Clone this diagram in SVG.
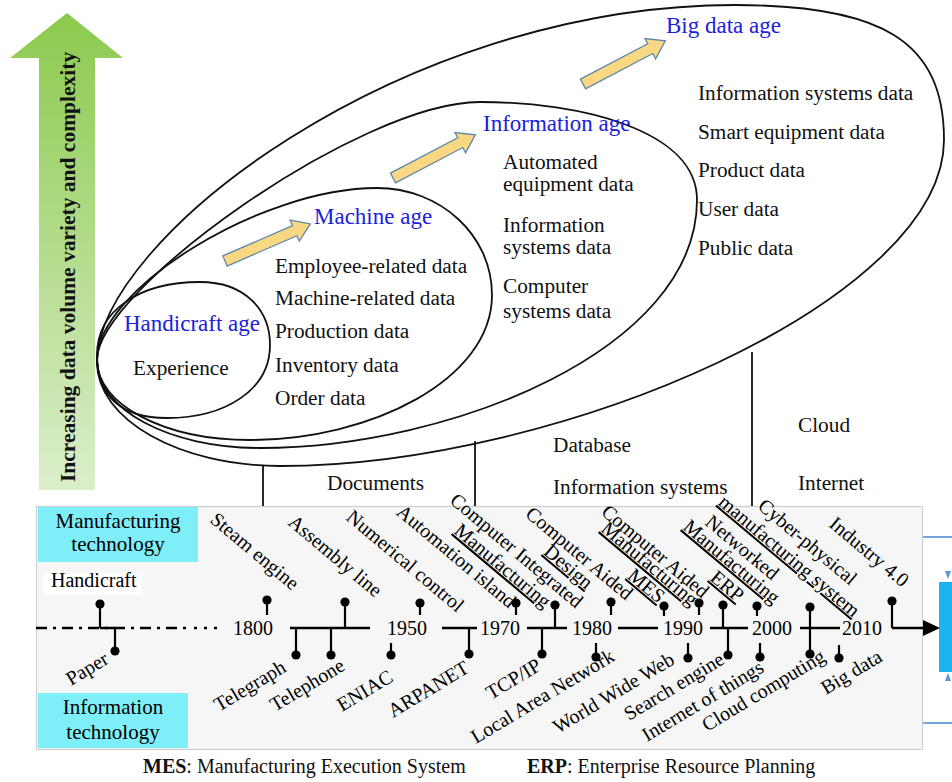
<svg xmlns="http://www.w3.org/2000/svg" width="952" height="782" viewBox="0 0 952 782">
  <defs>
    <linearGradient id="greenUp" x1="0" y1="1" x2="0" y2="0">
      <stop offset="0" stop-color="#dbeecb"/>
      <stop offset="1" stop-color="#8cca4e"/>
    </linearGradient>
    <!-- block arrow pointing along +x, tail at origin -->
    <path id="yArrow" d="M0,-5.5 H76 V-11.5 L93,0 L76,11.5 V5.5 H0 Z"/>
  </defs>
  <style>
    text { font-family: "Liberation Serif", "Times New Roman", serif; fill: #111; }
    .ring { fill: none; stroke: #111; stroke-width: 1.8; }
    .age { fill: #2020dc; font-size: 23px; }
    .item { font-size: 21.3px; }
    .tl { font-size: 20px; fill: #000; }
    .u { text-decoration: underline; }
    .yr { font-size: 20px; fill: #000; text-anchor: middle; }
    .pin { stroke: #000; stroke-width: 2.2; }
    .dot { fill: #000; }
    .axis { stroke: #000; stroke-width: 2.6; fill: none; }
    .tag { fill: #7eeef8; }
    .box { font-size: 21px; fill: #000; text-anchor: middle; }
    .yarrow { fill: #f9d883; stroke: #5d86aa; stroke-width: 1.3; }
    .drop { stroke: #111; stroke-width: 1.8; }
  </style>

  <rect width="952" height="782" fill="#ffffff"/>

  <!-- growth arrow on the left -->
  <g id="growth-arrow">
    <path d="M39,490 V58 H10 L67,13 L123,58 H95 V490 Z" fill="url(#greenUp)"/>
    <text transform="translate(75,482) rotate(-90)" font-size="21.5" font-weight="bold" fill="#111">Increasing data volume variety and complexity</text>
  </g>

  <!-- nested ages -->
  <g id="big-data-age">
    <path class="ring" d="M97,362 C97,240 400,5 735,5 C880,5 944,40 944,140 C944,300 560,466 280,466 C180,466 97,420 97,362 Z"/>
    <text class="age" x="666" y="33">Big data age</text>
    <text class="item" x="698" y="100">Information systems data</text>
    <text class="item" x="698" y="139">Smart equipment data</text>
    <text class="item" x="698" y="177">Product data</text>
    <text class="item" x="698" y="216">User data</text>
    <text class="item" x="698" y="255">Public data</text>
  </g>
  <g id="information-age">
    <path class="ring" d="M97,360 C97,290 360,102 480,102 C580,102 697,130 697,200 C697,350 450,448 260,448 C170,448 97,410 97,360 Z"/>
    <text class="age" x="483" y="131">Information age</text>
    <text class="item" x="503" y="169">Automated</text>
    <text class="item" x="503" y="191">equipment data</text>
    <text class="item" x="503" y="232">Information</text>
    <text class="item" x="503" y="254">systems data</text>
    <text class="item" x="503" y="293">Computer</text>
    <text class="item" x="503" y="318">systems data</text>
  </g>
  <g id="machine-age">
    <path class="ring" d="M97,360 C97,290 260,188 377,188 C440,188 492,235 492,295 C492,380 370,440 250,440 C165,440 97,405 97,360 Z"/>
    <text class="age" x="314" y="224">Machine age</text>
    <text class="item" x="275" y="273">Employee-related data</text>
    <text class="item" x="275" y="305">Machine-related data</text>
    <text class="item" x="275" y="338">Production data</text>
    <text class="item" x="275" y="372">Inventory data</text>
    <text class="item" x="275" y="405">Order data</text>
  </g>
  <g id="handicraft-age">
    <path class="ring" d="M97,355 C97,310 140,282 200,282 C245,282 270,310 270,345 C270,390 225,418 167,418 C120,418 97,395 97,355 Z"/>
    <text class="age" x="124" y="331">Handicraft age</text>
    <text class="item" x="133" y="375">Experience</text>
  </g>

  <!-- transitions between ages -->
  <g id="age-transitions">
    <use href="#yArrow" class="yarrow" transform="translate(225,261) rotate(-23.5)"/>
    <use href="#yArrow" class="yarrow" transform="translate(393,178) rotate(-27.7)"/>
    <use href="#yArrow" class="yarrow" transform="translate(583,84) rotate(-27.7)"/>
  </g>

  <!-- carriers between the ages and the timeline -->
  <g id="carrier-labels">
    <text class="item" x="327" y="490">Documents</text>
    <text class="item" x="553" y="452">Database</text>
    <text class="item" x="553" y="494">Information systems</text>
    <text class="item" x="798" y="432">Cloud</text>
    <text class="item" x="798" y="490">Internet</text>
  </g>

  <!-- right-hand partial panel -->
  <g id="side-panel">
    <line x1="923" y1="537" x2="952" y2="537" stroke="#6fa6dc" stroke-width="2"/>
    <line x1="923" y1="723" x2="952" y2="723" stroke="#6fa6dc" stroke-width="2"/>
    <path d="M945,571 L951,571 L948,579 Z" fill="#5d96d6"/>
    <path d="M945,681 L951,681 L948,673 Z" fill="#5d96d6"/>
    <rect x="939" y="582" width="13" height="90" fill="#1cb3f0"/>
  </g>

  <!-- timeline panel -->
  <g id="timeline-panel">
    <rect x="36.5" y="506.5" width="886" height="243" fill="#f6f6f6" stroke="#cfcfcf" stroke-width="1.2"/>
    <rect class="tag" x="38" y="507" width="160" height="55"/>
    <text class="box" x="118" y="528">Manufacturing</text>
    <text class="box" x="118" y="551">technology</text>
    <rect class="tag" x="38" y="693" width="150" height="55"/>
    <text class="box" x="113" y="714">Information</text>
    <text class="box" x="113" y="739">technology</text>
    <rect x="43" y="573" width="99" height="22" fill="#ffffff"/>
  </g>

  <!-- connectors: drops from the ages and the time axis -->
  <g id="connectors">
    <line class="drop" x1="263" y1="465" x2="263" y2="506"/>
    <line class="drop" x1="475" y1="441" x2="475" y2="506"/>
    <line class="drop" x1="752" y1="352" x2="752" y2="506"/>
    <line x1="36" y1="628" x2="190" y2="628" stroke="#000" stroke-width="2.6" stroke-dasharray="11 6 3 6"/>
    <line x1="194" y1="628" x2="218" y2="628" stroke="#000" stroke-width="2.6" stroke-dasharray="3 7"/>
    <path class="axis" d="M100,628 H115 M290,628 H370 M442,628 H477 M527,628 H567 M618,628 H658 M710,628 H748 M800,628 H840 M892,628 H925"/>
    <path d="M923,620 L940,628 L923,636 Z" fill="#000"/>
  </g>

  <g id="years">
    <text class="yr" x="253" y="635">1800</text>
    <text class="yr" x="407" y="635">1950</text>
    <text class="yr" x="500" y="635">1970</text>
    <text class="yr" x="592" y="635">1980</text>
    <text class="yr" x="683" y="635">1990</text>
    <text class="yr" x="772" y="635">2000</text>
    <text class="yr" x="862" y="635">2010</text>
  </g>

  <!-- manufacturing technology events (above the axis) -->
  <g id="ev-handicraft">
    <line class="pin" x1="100" y1="604" x2="100" y2="628"/><circle class="dot" cx="100" cy="604" r="4.6"/>
    <text class="tl" x="51" y="587" font-size="19">Handicraft</text>
  </g>
  <g id="ev-steam-engine">
    <line class="pin" x1="267" y1="600" x2="267" y2="615"/><circle class="dot" cx="267" cy="600" r="4.6"/>
    <text class="tl" text-anchor="end" transform="translate(292,591) rotate(40)">Steam engine</text>
  </g>
  <g id="ev-assembly-line">
    <line class="pin" x1="345" y1="602" x2="345" y2="628"/><circle class="dot" cx="345" cy="602" r="4.6"/>
    <text class="tl" text-anchor="end" transform="translate(375,598) rotate(40)">Assembly line</text>
  </g>
  <g id="ev-numerical-control">
    <line class="pin" x1="420" y1="603" x2="420" y2="615"/><circle class="dot" cx="420" cy="603" r="4.6"/>
    <text class="tl" text-anchor="end" transform="translate(457,613) rotate(40)">Numerical control</text>
  </g>
  <g id="ev-automation-island">
    <line class="pin" x1="516" y1="603" x2="516" y2="615"/><circle class="dot" cx="516" cy="603" r="4.6"/>
    <text class="tl" text-anchor="end" transform="translate(509,609) rotate(40)">Automation island</text>
  </g>
  <g id="ev-cim">
    <line class="pin" x1="555" y1="605" x2="555" y2="628"/><circle class="dot" cx="555" cy="605" r="4.6"/>
    <text class="tl" text-anchor="end" transform="translate(576,609) rotate(40)">Computer Integrated</text>
    <text class="tl u" text-anchor="end" transform="translate(544,609) rotate(40)">Manufacturing</text>
  </g>
  <g id="ev-cad">
    <line class="pin" x1="611" y1="602" x2="611" y2="615"/><circle class="dot" cx="611" cy="602" r="4.6"/>
    <text class="tl" text-anchor="end" transform="translate(626,601) rotate(40)">Computer Aided</text>
    <text class="tl u" text-anchor="end" transform="translate(586,590) rotate(40)">Design</text>
  </g>
  <g id="ev-mes">
    <line class="pin" x1="664" y1="606" x2="664" y2="616"/><circle class="dot" cx="664" cy="606" r="4.6"/>
    <text class="tl u" text-anchor="end" transform="translate(658,604) rotate(40)">MES</text>
  </g>
  <g id="ev-cam">
    <line class="pin" x1="699" y1="603" x2="699" y2="615"/><circle class="dot" cx="699" cy="603" r="4.6"/>
    <text class="tl" text-anchor="end" transform="translate(702,599) rotate(40)">Computer Aided</text>
    <text class="tl u" text-anchor="end" transform="translate(691,607) rotate(40)">Manufacturing</text>
  </g>
  <g id="ev-erp">
    <line class="pin" x1="723" y1="605" x2="723" y2="628"/><circle class="dot" cx="723" cy="605" r="4.6"/>
    <text class="tl u" text-anchor="end" transform="translate(737,603) rotate(40)">ERP</text>
  </g>
  <g id="ev-networked-manufacturing">
    <line class="pin" x1="757" y1="606" x2="757" y2="616"/><circle class="dot" cx="757" cy="606" r="4.6"/>
    <text class="tl" text-anchor="end" transform="translate(772,581) rotate(40)">Networked</text>
    <text class="tl u" text-anchor="end" transform="translate(773,605) rotate(40)">Manufacturing</text>
  </g>
  <g id="ev-cyber-physical">
    <line class="pin" x1="810" y1="607" x2="810" y2="628"/><circle class="dot" cx="810" cy="607" r="4.6"/>
    <text class="tl" text-anchor="end" transform="translate(850,586) rotate(40)">Cyber-physical</text>
    <text class="tl u" text-anchor="end" transform="translate(853,618) rotate(40)">manufacturing system</text>
  </g>
  <g id="ev-industry-4">
    <line class="pin" x1="892" y1="601" x2="892" y2="628"/><circle class="dot" cx="892" cy="601" r="4.6"/>
    <text class="tl" text-anchor="end" transform="translate(902,588) rotate(40)">Industry 4.0</text>
  </g>

  <!-- information technology events (below the axis) -->
  <g id="ev-paper">
    <line class="pin" x1="115" y1="628" x2="115" y2="651"/><circle class="dot" cx="115" cy="651" r="4.6"/>
    <text class="tl" transform="translate(71,686) rotate(-31)">Paper</text>
  </g>
  <g id="ev-telegraph">
    <line class="pin" x1="296" y1="628" x2="296" y2="655"/><circle class="dot" cx="296" cy="655" r="4.6"/>
    <text class="tl" transform="translate(219,712) rotate(-31)">Telegraph</text>
  </g>
  <g id="ev-telephone">
    <line class="pin" x1="331" y1="628" x2="331" y2="655"/><circle class="dot" cx="331" cy="655" r="4.6"/>
    <text class="tl" transform="translate(275,712) rotate(-31)">Telephone</text>
  </g>
  <g id="ev-eniac">
    <line class="pin" x1="391" y1="643" x2="391" y2="655"/><circle class="dot" cx="391" cy="655" r="4.6"/>
    <text class="tl" transform="translate(342,712) rotate(-31)">ENIAC</text>
  </g>
  <g id="ev-arpanet">
    <line class="pin" x1="469" y1="628" x2="469" y2="654"/><circle class="dot" cx="469" cy="654" r="4.6"/>
    <text class="tl" transform="translate(393,718) rotate(-31)">ARPANET</text>
  </g>
  <g id="ev-tcpip">
    <line class="pin" x1="542" y1="628" x2="542" y2="654"/><circle class="dot" cx="542" cy="654" r="4.6"/>
    <text class="tl" transform="translate(491,700) rotate(-31)">TCP/IP</text>
  </g>
  <g id="ev-lan">
    <line class="pin" x1="596" y1="643" x2="596" y2="657"/><circle class="dot" cx="596" cy="657" r="4.6"/>
    <text class="tl" transform="translate(476,744) rotate(-31)">Local Area Network</text>
  </g>
  <g id="ev-www">
    <line class="pin" x1="688" y1="643" x2="688" y2="658"/><circle class="dot" cx="688" cy="658" r="4.6"/>
    <text class="tl" transform="translate(558,734) rotate(-31)">World Wide Web</text>
  </g>
  <g id="ev-search-engine">
    <line class="pin" x1="728" y1="628" x2="728" y2="655"/><circle class="dot" cx="728" cy="655" r="4.6"/>
    <text class="tl" transform="translate(629,721) rotate(-31)">Search engine</text>
  </g>
  <g id="ev-iot">
    <line class="pin" x1="760" y1="643" x2="760" y2="657"/><circle class="dot" cx="760" cy="657" r="4.6"/>
    <text class="tl" transform="translate(647,742) rotate(-31)">Internet of things</text>
  </g>
  <g id="ev-cloud-computing">
    <line class="pin" x1="810" y1="628" x2="810" y2="654"/><circle class="dot" cx="810" cy="654" r="4.6"/>
    <text class="tl" transform="translate(707,732) rotate(-31)">Cloud computing</text>
  </g>
  <g id="ev-big-data">
    <line class="pin" x1="839" y1="645" x2="839" y2="658"/><circle class="dot" cx="839" cy="658" r="4.6"/>
    <text class="tl" transform="translate(826,695) rotate(-31)">Big data</text>
  </g>

  <!-- abbreviations -->
  <g id="legend">
    <text x="143" y="773" font-size="20"><tspan font-weight="bold">MES</tspan>: Manufacturing Execution System</text>
    <text x="527" y="773" font-size="20"><tspan font-weight="bold">ERP</tspan>: Enterprise Resource Planning</text>
  </g>
</svg>
